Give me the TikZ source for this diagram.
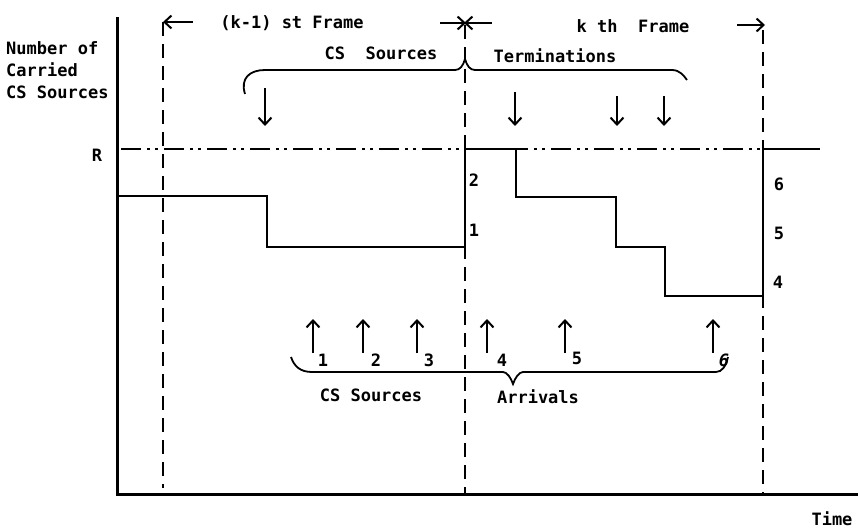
\documentclass[tikz,border=0pt]{standalone}
\usepackage{fontspec}
\setmainfont{DejaVu Sans Mono}
\usetikzlibrary{arrows.meta}
\begin{document}
\begin{tikzpicture}[x=1pt,y=-1pt,
  lbl/.style={inner sep=0pt,font=\fontsize{17}{19}\selectfont\bfseries},
  axisline/.style={line width=3pt},
  stepline/.style={line width=2.4pt},
  vdash/.style={line width=1.8pt,dash pattern=on 14pt off 8pt},
  rline/.style={line width=1.8pt,dash pattern=on 20pt off 6pt on 3pt off 5pt on 3pt off 6pt},
  arr/.style={line width=2pt,-{Straight Barb[length=7pt,width=13pt,line width=2pt]}},
  brace/.style={line width=1.8pt}]
\useasboundingbox (0,0) rectangle (858,530);
% axes
\coordinate (o) at (117,494);
\coordinate (ytop) at (117,17);
\coordinate (xend) at (858,494);
\draw[axisline] (ytop) -- (o) -- (xend);
% dashed frame boundaries
\coordinate (d1t) at (163,22); \coordinate (d1b) at (163,488);
\coordinate (d2t) at (465,25); \coordinate (d2b) at (465,494);
\coordinate (d3t) at (763,30); \coordinate (d3b) at (763,494);
\draw[vdash] (d1t) -- (d1b);
\draw[vdash] (d2t) -- (d2b);
\draw[vdash] (d3t) -- (d3b);
% R level
\coordinate (r0) at (121,149); \coordinate (r1) at (820,149);
\draw[rline] (r0) -- (r1);
% step function
\draw[stepline] (117,196) -- (267,196) -- (267,247) -- (465,247) -- (465,149) -- (516,149)
  -- (516,197) -- (616,197) -- (616,247) -- (665,247) -- (665,296) -- (763,296)
  -- (763,149) -- (820,149);
% frame arrows
\coordinate (a1s) at (193,22); \coordinate (a1e) at (163,22);
\coordinate (a2s) at (440,23); \coordinate (a2e) at (466,23);
\coordinate (a3s) at (492,23); \coordinate (a3e) at (464,23);
\coordinate (a4s) at (737,25); \coordinate (a4e) at (765,25);
\draw[arr] (a1s) -- (a1e);
\draw[arr] (a2s) -- (a2e);
\draw[arr] (a3s) -- (a3e);
\draw[arr] (a4s) -- (a4e);
\node[lbl] (f1) at (292,23) {(k-1) st Frame};
\node[lbl] (f2) at (633,26) {k th\ \ Frame};
% top brace
\draw[brace] (245,94) .. controls (240,78) and (250,70) .. (265,70) -- (455,70)
  .. controls (460,70) and (463,66) .. (465,59) .. controls (467,66) and (470,70) .. (475,70)
  -- (672,70) .. controls (680,70) and (684,76) .. (687,80);
\node[lbl] (cs1) at (381,53) {CS\ \ Sources};
\node[lbl] (term) at (555,56) {Terminations};
% termination arrows
\coordinate (t1s) at (265,88); \coordinate (t1e) at (265,126);
\coordinate (t2s) at (515,92); \coordinate (t2e) at (515,126);
\coordinate (t3s) at (617,96); \coordinate (t3e) at (617,126);
\coordinate (t4s) at (664,96); \coordinate (t4e) at (664,126);
\draw[arr] (t1s) -- (t1e);
\draw[arr] (t2s) -- (t2e);
\draw[arr] (t3s) -- (t3e);
\draw[arr] (t4s) -- (t4e);
% left labels
\node[lbl,anchor=west] (n1) at (6,48) {Number of};
\node[lbl,anchor=west] (n2) at (6,70) {Carried};
\node[lbl,anchor=west] (n3) at (6,92) {CS Sources};
\node[lbl] (rl) at (97,155) {R};
% step labels
\node[lbl] (s2) at (474,180) {2};
\node[lbl] (s1) at (474,230) {1};
\node[lbl] (s6) at (779,184) {6};
\node[lbl] (s5) at (779,233) {5};
\node[lbl] (s4) at (778,282) {4};
% arrival arrows
\foreach \x/\n in {313/u1,363/u2,417/u3,487/u4,565/u5,713/u6}{
  \coordinate (\n s) at (\x,353); \coordinate (\n e) at (\x,319);
  \draw[arr] (\n s) -- (\n e);
}
\node[lbl] (b1) at (323,360) {1};
\node[lbl] (b2) at (376,360) {2};
\node[lbl] (b3) at (429,360) {3};
\node[lbl] (b4) at (502,360) {4};
\node[lbl] (b5) at (577,358) {5};
\node[lbl,font=\fontsize{17}{19}\selectfont\bfseries\itshape] (b6) at (724,360) {6};
% bottom brace
\draw[brace] (291,357) .. controls (294,366) and (300,372) .. (312,372) -- (503,372)
  .. controls (507,372) and (511,378) .. (513,384) .. controls (515,378) and (519,372) .. (523,372)
  -- (716,372) .. controls (722,372) and (726,366) .. (728,357);
\node[lbl] (cs2) at (371,395) {CS Sources};
\node[lbl] (arrv) at (538,397) {Arrivals};
\node[lbl] (time) at (832,519) {Time};
\end{tikzpicture}
\end{document}
